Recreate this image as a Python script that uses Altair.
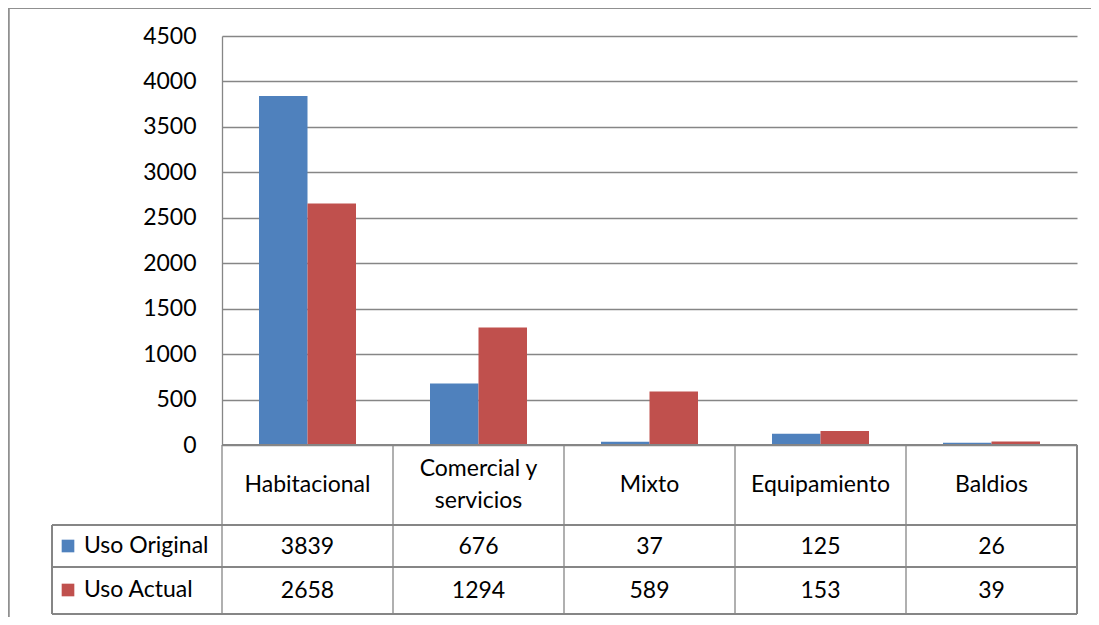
import altair as alt
import pandas as pd

categories = ["Habitacional", "Comercial y servicios", "Mixto", "Equipamiento", "Baldios"]
header_labels = ["Habitacional", "Comercial y\nservicios", "Mixto", "Equipamiento", "Baldios"]
series_names = ["Uso Original", "Uso Actual"]
uso_original = [3839, 676, 37, 125, 26]
uso_actual = [2658, 1294, 589, 153, 39]
colors = ["#4F81BD", "#C0504D"]
y_ticks = [0, 500, 1000, 1500, 2000, 2500, 3000, 3500, 4000, 4500]

rows = []
for c, v in zip(categories, uso_original):
    rows.append({"category": c, "series": series_names[0], "value": v})
for c, v in zip(categories, uso_actual):
    rows.append({"category": c, "series": series_names[1], "value": v})
df = pd.DataFrame(rows)
df_header = pd.DataFrame({"category": categories, "label": header_labels})
df_series = pd.DataFrame({"series": series_names})

FONT = "Lato"
FS = 23
GRID = "#868686"
W, H = 855, 409

band_scale = alt.Scale(paddingInner=0, paddingOuter=0)
xenc = alt.X("category:N", sort=categories, scale=band_scale, axis=None)
xmid = alt.X("category:N", sort=categories, bandPosition=0.5, scale=band_scale, axis=None)
color_scale = alt.Scale(domain=series_names, range=colors)

bars = alt.Chart(df).mark_bar().encode(
    x=xenc,
    xOffset=alt.XOffset("series:N", sort=series_names,
                        scale=alt.Scale(paddingInner=0, paddingOuter=0.763)),
    y=alt.Y("value:Q", scale=alt.Scale(domain=[0, 4500], nice=False),
            axis=alt.Axis(values=y_ticks, format="d", title=None, grid=True, gridColor=GRID,
                          gridWidth=1.3, domain=True, domainColor=GRID,
                          domainWidth=1.3, ticks=False, labelPadding=26,
                          labelFont=FONT, labelFontSize=FS, labelColor="black")),
    color=alt.Color("series:N", scale=color_scale, legend=None),
)

def rule(**enc):
    return alt.Chart(df_header).mark_rule(color=GRID, strokeWidth=1.3).encode(**enc)

vlines = alt.Chart(df_header).mark_rule(color=GRID, strokeWidth=1.3).encode(
    x=alt.X("category:N", sort=categories, bandPosition=0, scale=band_scale, axis=None),
    y=alt.value(409), y2=alt.value(578),
)
vline_end = rule(x=alt.value(W), y=alt.value(409), y2=alt.value(578))
bottom_axis = rule(x=alt.value(0), x2=alt.value(W), y=alt.value(409))
hl1 = rule(x=alt.value(-170), x2=alt.value(W), y=alt.value(489))
hl2 = rule(x=alt.value(-170), x2=alt.value(W), y=alt.value(531))
hl3 = rule(x=alt.value(-170), x2=alt.value(W), y=alt.value(578))
vl_left = rule(x=alt.value(-170), y=alt.value(489), y2=alt.value(578))

frame_left = alt.Chart(df_header).mark_rule(color="#909090", strokeWidth=1.5).encode(
    x=alt.value(-213.5), y=alt.value(-28), y2=alt.value(620))
frame_top = alt.Chart(df_header).mark_rule(color="#909090", strokeWidth=1.5).encode(
    x=alt.value(-214), x2=alt.value(W + 20), y=alt.value(-28))

text_kw = dict(font=FONT, fontSize=FS, color="black", baseline="middle")

header_single = alt.Chart(df_header).transform_filter(
    "indexof(datum.label, '\\n') < 0").mark_text(**text_kw).encode(
    x=xmid, y=alt.value(449), text="label:N")
header_multi = alt.Chart(df_header).transform_filter(
    "indexof(datum.label, '\\n') >= 0").mark_text(
    lineBreak="\n", lineHeight=32, **text_kw).encode(
    x=xmid, y=alt.value(433), text="label:N")

row1 = alt.Chart(df).transform_filter(alt.datum.series == series_names[0]).mark_text(
    **text_kw).encode(x=xmid, y=alt.value(511), text="value:Q")
row2 = alt.Chart(df).transform_filter(alt.datum.series == series_names[1]).mark_text(
    **text_kw).encode(x=xmid, y=alt.value(555), text="value:Q")

leg_sq1 = alt.Chart(df_series).transform_filter(alt.datum.series == series_names[0]).mark_square(
    size=160, opacity=1).encode(
    x=alt.value(-154), y=alt.value(510),
    color=alt.Color("series:N", scale=color_scale, legend=None))
leg_sq2 = alt.Chart(df_series).transform_filter(alt.datum.series == series_names[1]).mark_square(
    size=160, opacity=1).encode(
    x=alt.value(-154), y=alt.value(554),
    color=alt.Color("series:N", scale=color_scale, legend=None))
leg_t1 = alt.Chart(df_series).transform_filter(alt.datum.series == series_names[0]).mark_text(
    align="left", **text_kw).encode(
    x=alt.value(-138), y=alt.value(510), text="series:N")
leg_t2 = alt.Chart(df_series).transform_filter(alt.datum.series == series_names[1]).mark_text(
    align="left", **text_kw).encode(
    x=alt.value(-138), y=alt.value(554), text="series:N")

chart = alt.layer(
    bars, vlines, vline_end, bottom_axis, hl1, hl2, hl3, vl_left,
    frame_left, frame_top, header_single, header_multi, row1, row2,
    leg_sq1, leg_sq2, leg_t1, leg_t2,
).properties(
    width=W, height=H,
    autosize=alt.AutoSizeParams(type="none"),
    padding={"left": 214, "top": 28, "right": 14, "bottom": 172},
    background="white",
).configure_view(stroke=None)

chart.save("out.html", embed_options={"renderer": "svg", "actions": False})
